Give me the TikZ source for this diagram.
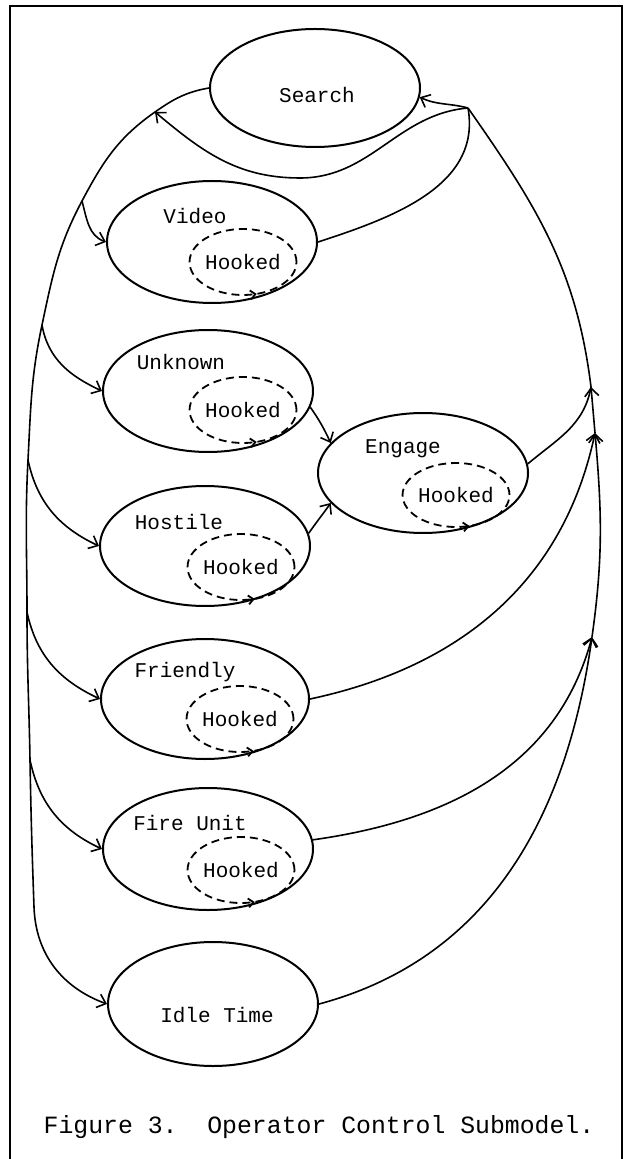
\documentclass[tikz,border=0pt]{standalone}
\usepackage{fontspec}
\setmonofont{Liberation Mono}
\usetikzlibrary{shapes,arrows.meta,positioning,calc,decorations.markings}

\begin{document}
\begin{tikzpicture}[x=0.5pt,y=0.5pt,
    >={Straight Barb[length=4pt,width=7pt]},
    state/.style={ellipse,draw,line width=1pt,minimum width=105pt,minimum height=61pt,inner sep=0pt},
    hook/.style={ellipse,draw,dash pattern=on 4pt off 2.5pt,line width=0.9pt,minimum width=53pt,minimum height=33pt,inner sep=0pt,font=\ttfamily\fontsize{10.5}{12}\selectfont,
      postaction={decorate,decoration={markings,mark=at position 0.8 with {\arrow{Straight Barb[length=2.5pt,width=4.5pt]}}}}},
    lbl/.style={font=\ttfamily\fontsize{10.5}{12}\selectfont,inner sep=0pt},
    link/.style={line width=0.8pt}]
    \useasboundingbox (0,0) rectangle (625,-1159);
    % frame
    \draw[line width=1pt] (10,-1159) -- (10,-6) -- (622,-6) -- (622,-1159);

    % States
    \node[state,minimum height=59pt] (search) at (315,-88) {};
    \node[lbl] (searchT) at (317,-95) {Search};
    \node[state] (video) at (212,-242) {};
    \node[lbl] (videoT) at (195,-216) {Video};
    \node[hook] (videoH) at (243,-262) {Hooked};
    \node[state] (unknown) at (208,-391) {};
    \node[lbl] (unknownT) at (181,-362) {Unknown};
    \node[hook] (unknownH) at (243,-410) {Hooked};
    \node[state,minimum height=60pt] (engage) at (423,-473) {};
    \node[lbl] (engageT) at (403,-449) {Engage};
    \node[hook,minimum height=32pt] (engageH) at (456,-495) {Hooked};
    \node[state,minimum height=60pt] (hostile) at (205,-546) {};
    \node[lbl] (hostileT) at (179,-522) {Hostile};
    \node[hook] (hostileH) at (241,-567) {Hooked};
    \node[state,minimum width=104pt,minimum height=60pt] (friendly) at (205,-699) {};
    \node[lbl] (friendlyT) at (185,-672) {Friendly};
    \node[hook] (friendlyH) at (240,-719) {Hooked};
    \node[state] (fireunit) at (208,-849) {};
    \node[lbl] (fireunitT) at (190,-823) {Fire Unit};
    \node[hook] (fireunitH) at (241,-870) {Hooked};
    \node[state,minimum height=62pt] (idle) at (213,-1004) {};
    \node[lbl] (idleT) at (217,-1015) {Idle Time};

    \node[font=\ttfamily\fontsize{12.4}{14}\selectfont] (caption) at (319,-1127) {Figure 3.\ \ Operator Control Submodel.};

    % Left trunk
    \coordinate (la) at (155,-112);
    \coordinate (lv) at (82,-201);
    \coordinate (lu) at (42,-325);
    \coordinate (lh) at (28,-460);
    \coordinate (lf) at (27,-612);
    \coordinate (lfu) at (30,-760);
    \coordinate (li) at (34,-907);
    \draw[link,->] (search.west) to[out=190,in=35] (la) to[out=215,in=62] (lv)
        to[out=242,in=78] (lu) to[out=258,in=87] (lh) to[out=267,in=90] (lf)
        to[out=270,in=91] (lfu) to[out=271,in=92] (li) to[out=272,in=160] (idle.west);
    \draw[link,->] (lv) to[out=285,in=160] (video.west);
    \draw[link,->] (lu) to[out=280,in=155] (unknown.west);
    \draw[link,->] (lh) to[out=282,in=155] (hostile.west);
    \draw[link,->] (lf) to[out=282,in=155] (friendly.west);
    \draw[link,->] (lfu) to[out=282,in=155] (fireunit.west);

    % Right trunk
    \coordinate (jr) at (468,-108);
    \coordinate (ib) at (300,-178);
    \coordinate (ra1) at (591,-387);
    \coordinate (ra2) at (595,-433);
    \coordinate (ra3) at (592,-637);
    \draw[link,->] (idle.east) to[out=15,in=262] (ra3);
    \draw[link,->] (fireunit.5) to[out=8,in=255] (ra3);
    \draw[link,->] (ra3) to[out=82,in=275] (ra2);
    \draw[link,->] (friendly.east) to[out=12,in=258] (ra2);
    \draw[link,->] (ra2) to[out=95,in=275] (ra1);
    \draw[link] (engage.5) to[out=40,in=260] (ra1);
    \draw[link] (ra1) to[out=97,in=-55] (jr);
    \draw[link] (video.east) to[out=18,in=-80] (jr);
    \draw[link,->] (jr) to[out=165,in=-25] (search.-5);
    \draw[link,->] (jr) to[out=185,in=0] (ib) to[out=180,in=-40] (la);

    % into Engage
    \draw[link,->] (unknown.-9) to[out=-55,in=115] (engage.162);
    \draw[link,->] (hostile.7) to[out=55,in=235] (engage.198);
\end{tikzpicture}
\end{document}
